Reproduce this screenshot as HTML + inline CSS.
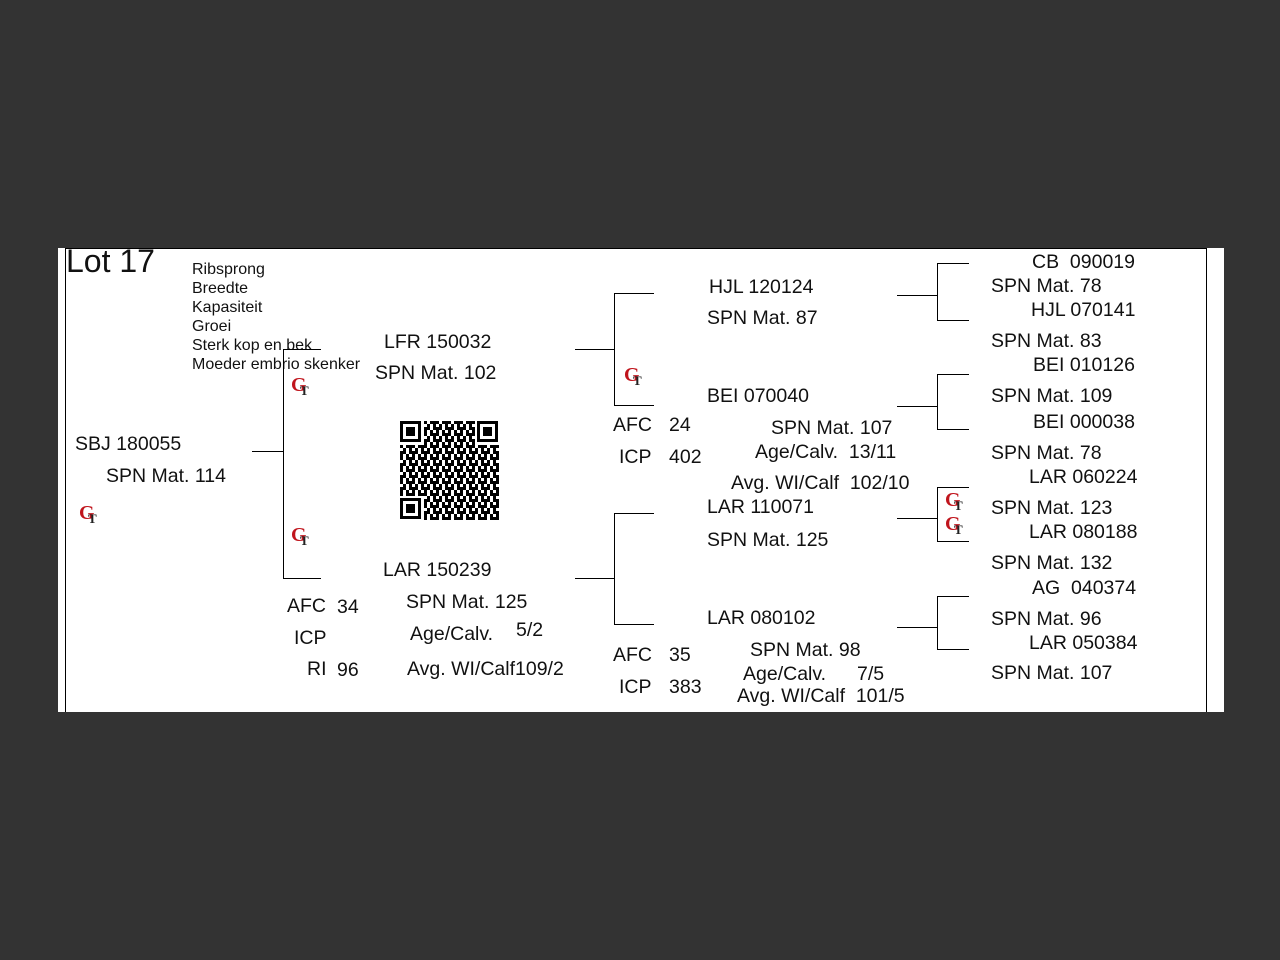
<!DOCTYPE html>
<html><head><meta charset="utf-8"><style>
body{margin:0;background:#333;width:1280px;height:960px;position:relative;overflow:hidden;font-family:"Liberation Sans",Arial,sans-serif;color:#111}
#p{position:absolute;left:58px;top:248px;width:1166px;height:464px;background:#fff}
.t{position:absolute;font-size:19.5px;line-height:20px;white-space:nowrap}
.s{position:absolute;font-size:16px;line-height:19px;white-space:nowrap}
.h{position:absolute;height:1px;background:#000}
.v{position:absolute;width:1px;background:#000}
.gt{position:absolute;width:24px;height:24px;font-family:"Liberation Serif",serif;font-weight:bold}
.gt b{position:absolute;left:2px;top:0;font-size:20px;color:#c0141c}
.gt i{position:absolute;left:11px;top:9px;font-size:13px;font-style:normal;color:#222}
</style></head><body>
<div id="p"></div>
<div class="v" style="left:65px;top:248px;height:464px"></div>
<div class="v" style="left:1206px;top:248px;height:464px"></div>
<div class="h" style="left:65px;top:248px;width:1142px"></div>

<div class="t" style="left:66px;top:245px;font-size:32px;line-height:32px">Lot 17</div>
<div class="s" style="left:192px;top:260px">Ribsprong</div>
<div class="s" style="left:192px;top:279px">Breedte</div>
<div class="s" style="left:192px;top:298px">Kapasiteit</div>
<div class="s" style="left:192px;top:317px">Groei</div>
<div class="s" style="left:192px;top:336px">Sterk kop en bek</div>
<div class="s" style="left:192px;top:355px">Moeder embrio skenker</div>

<div class="t" style="left:75px;top:434px">SBJ 180055</div>
<div class="t" style="left:106px;top:466px">SPN Mat. 114</div>
<div class="gt" style="left:77px;top:502px"><b>G</b><i>T</i></div>

<div class="h" style="left:252px;top:451px;width:31px"></div>
<div class="v" style="left:283px;top:349px;height:230px"></div>
<div class="h" style="left:283px;top:349px;width:38px"></div>
<div class="h" style="left:283px;top:578px;width:38px"></div>
<div class="gt" style="left:289px;top:374px"><b>G</b><i>T</i></div>
<div class="gt" style="left:289px;top:524px"><b>G</b><i>T</i></div>

<div class="t" style="left:384px;top:332px">LFR 150032</div>
<div class="t" style="left:375px;top:363px">SPN Mat. 102</div>

<svg style="position:absolute;left:400px;top:421px" width="99" height="99" viewBox="0 0 99 99">
<defs><pattern id="q" width="12" height="12" patternUnits="userSpaceOnUse">
<rect x="0" y="0" width="3" height="3"/><rect x="6" y="0" width="6" height="3"/><rect x="3" y="3" width="3" height="3"/><rect x="9" y="3" width="3" height="6"/><rect x="0" y="6" width="6" height="3"/><rect x="6" y="9" width="3" height="3"/><rect x="0" y="9" width="3" height="3"/></pattern></defs>
<rect width="99" height="99" fill="url(#q)"/>
<g fill="#fff"><rect x="0" y="0" width="24" height="24"/><rect x="75" y="0" width="24" height="24"/><rect x="0" y="75" width="24" height="24"/></g>
<g fill="none" stroke="#000" stroke-width="3"><rect x="1.5" y="1.5" width="18" height="18"/><rect x="78.5" y="1.5" width="18" height="18"/><rect x="1.5" y="78.5" width="18" height="18"/></g>
<rect x="6" y="6" width="9" height="9"/><rect x="83" y="6" width="9" height="9"/><rect x="6" y="83" width="9" height="9"/>
</svg>

<div class="t" style="left:383px;top:560px">LAR 150239</div>
<div class="t" style="left:406px;top:592px">SPN Mat. 125</div>
<div class="t" style="left:410px;top:624px">Age/Calv.</div>
<div class="t" style="left:516px;top:620px">5/2</div>
<div class="t" style="left:407px;top:659px">Avg. WI/Calf109/2</div>
<div class="t" style="left:287px;top:596px">AFC</div><div class="t" style="left:337px;top:597px">34</div>
<div class="t" style="left:294px;top:628px">ICP</div>
<div class="t" style="left:307px;top:659px">RI</div><div class="t" style="left:337px;top:660px">96</div>

<div class="h" style="left:575px;top:349px;width:39px"></div>
<div class="v" style="left:614px;top:293px;height:112px"></div>
<div class="h" style="left:614px;top:293px;width:40px"></div>
<div class="h" style="left:614px;top:405px;width:40px"></div>
<div class="gt" style="left:622px;top:364px"><b>G</b><i>T</i></div>

<div class="h" style="left:575px;top:578px;width:39px"></div>
<div class="v" style="left:614px;top:513px;height:112px"></div>
<div class="h" style="left:614px;top:513px;width:40px"></div>
<div class="h" style="left:614px;top:624px;width:40px"></div>

<div class="t" style="left:709px;top:277px">HJL 120124</div>
<div class="t" style="left:707px;top:308px">SPN Mat. 87</div>
<div class="t" style="left:707px;top:386px">BEI 070040</div>
<div class="t" style="left:771px;top:418px">SPN Mat. 107</div>
<div class="t" style="left:755px;top:442px">Age/Calv.&nbsp; 13/11</div>
<div class="t" style="left:731px;top:473px">Avg. WI/Calf&nbsp; 102/10</div>
<div class="t" style="left:613px;top:415px">AFC</div><div class="t" style="left:669px;top:415px">24</div>
<div class="t" style="left:619px;top:447px">ICP</div><div class="t" style="left:669px;top:447px">402</div>

<div class="t" style="left:707px;top:497px">LAR 110071</div>
<div class="t" style="left:707px;top:530px">SPN Mat. 125</div>
<div class="t" style="left:707px;top:608px">LAR 080102</div>
<div class="t" style="left:750px;top:640px">SPN Mat. 98</div>
<div class="t" style="left:743px;top:664px">Age/Calv.</div><div class="t" style="left:857px;top:664px">7/5</div>
<div class="t" style="left:737px;top:686px">Avg. WI/Calf&nbsp; 101/5</div>
<div class="t" style="left:613px;top:645px">AFC</div><div class="t" style="left:669px;top:645px">35</div>
<div class="t" style="left:619px;top:677px">ICP</div><div class="t" style="left:669px;top:677px">383</div>

<div class="h" style="left:897px;top:295px;width:40px"></div>
<div class="v" style="left:937px;top:263px;height:58px"></div>
<div class="h" style="left:937px;top:263px;width:32px"></div>
<div class="h" style="left:937px;top:320px;width:32px"></div>

<div class="h" style="left:897px;top:406px;width:40px"></div>
<div class="v" style="left:937px;top:374px;height:56px"></div>
<div class="h" style="left:937px;top:374px;width:32px"></div>
<div class="h" style="left:937px;top:429px;width:32px"></div>

<div class="h" style="left:897px;top:518px;width:40px"></div>
<div class="v" style="left:937px;top:487px;height:55px"></div>
<div class="h" style="left:937px;top:487px;width:32px"></div>
<div class="h" style="left:937px;top:541px;width:32px"></div>
<div class="gt" style="left:943px;top:489px"><b>G</b><i>T</i></div>
<div class="gt" style="left:943px;top:513px"><b>G</b><i>T</i></div>

<div class="h" style="left:897px;top:627px;width:40px"></div>
<div class="v" style="left:937px;top:596px;height:54px"></div>
<div class="h" style="left:937px;top:596px;width:32px"></div>
<div class="h" style="left:937px;top:649px;width:32px"></div>

<div class="t" style="left:1032px;top:252px">CB&nbsp; 090019</div>
<div class="t" style="left:991px;top:276px">SPN Mat. 78</div>
<div class="t" style="left:1031px;top:300px">HJL 070141</div>
<div class="t" style="left:991px;top:331px">SPN Mat. 83</div>
<div class="t" style="left:1033px;top:355px">BEI 010126</div>
<div class="t" style="left:991px;top:386px">SPN Mat. 109</div>
<div class="t" style="left:1033px;top:412px">BEI 000038</div>
<div class="t" style="left:991px;top:443px">SPN Mat. 78</div>
<div class="t" style="left:1029px;top:467px">LAR 060224</div>
<div class="t" style="left:991px;top:498px">SPN Mat. 123</div>
<div class="t" style="left:1029px;top:522px">LAR 080188</div>
<div class="t" style="left:991px;top:553px">SPN Mat. 132</div>
<div class="t" style="left:1032px;top:578px">AG&nbsp; 040374</div>
<div class="t" style="left:991px;top:609px">SPN Mat. 96</div>
<div class="t" style="left:1029px;top:633px">LAR 050384</div>
<div class="t" style="left:991px;top:663px">SPN Mat. 107</div>
</body></html>
